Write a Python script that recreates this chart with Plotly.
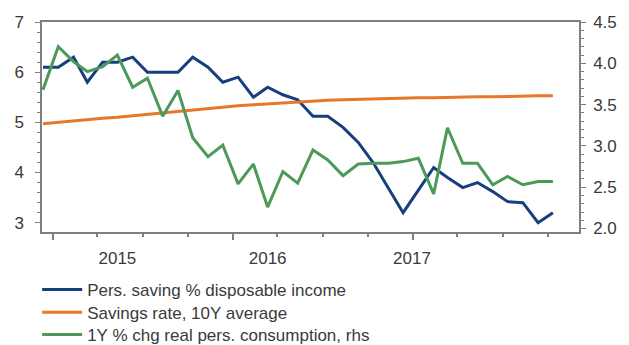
import pandas as pd
import plotly.graph_objects as go

# Monthly observations
months = pd.date_range("2014-12-01", periods=35, freq="MS")

# Personal saving, % of disposable income (left axis)
saving_rate = [6.1, 6.1, 6.3, 5.8, 6.2, 6.2, 6.3, 6.0, 6.0, 6.0,
               6.3, 6.1, 5.8, 5.9, 5.5, 5.7, 5.55, 5.45, 5.12, 5.12,
               4.9, 4.6, 4.2, 3.7, 3.2, 3.65, 4.1, 3.9, 3.7, 3.8,
               3.62, 3.42, 3.4, 3.0, 3.2]

# Savings rate, 10-year average (left axis)
saving_10y_avg = [4.97, 5.00, 5.02, 5.05, 5.08, 5.10, 5.13, 5.16, 5.19, 5.22,
                  5.25, 5.27, 5.30, 5.33, 5.35, 5.37, 5.39, 5.41, 5.43, 5.44,
                  5.45, 5.46, 5.47, 5.48, 5.48, 5.49, 5.49, 5.50, 5.50, 5.51,
                  5.51, 5.52, 5.52, 5.53, 5.53]

# Real personal consumption, 1Y % change (right axis)
consumption_yoy = [3.68, 4.20, 4.02, 3.90, 3.96, 4.10, 3.71, 3.82, 3.36, 3.67,
                   3.10, 2.87, 3.01, 2.54, 2.78, 2.26, 2.69, 2.55, 2.95, 2.83,
                   2.64, 2.78, 2.79, 2.79, 2.81, 2.85, 2.42, 3.22, 2.79, 2.79,
                   2.53, 2.63, 2.53, 2.57, 2.57]

series_names = ["Pers. saving % disposable income",
                "Savings rate, 10Y average",
                "1Y % chg real pers. consumption, rhs"]
series_colors = ["#173f7c", "#e8772a", "#4d9959"]

# Year labels and tick layout along the time axis
year_labels = ["2015", "2016", "2017"]
year_label_dates = ["2015-05-01", "2016-03-01", "2016-12-19"]
year_tick_dates = ["2014-12-21", "2015-12-21", "2016-12-21"]

x_range = ["2014-11-29", "2017-11-23"]
axis_grey = "#7f7f7f"
text_grey = "#3a3a3a"
font_family = "Liberation Sans, Arial, sans-serif"

# One legend per series so the rows sit tightly stacked below the chart
legend_ids = ["legend", "legend2", "legend3"]
legend_tops = [-0.19, -0.298, -0.405]

fig = go.Figure()
for values, name, color, axis, leg in zip(
        [saving_rate, saving_10y_avg, consumption_yoy],
        series_names, series_colors, ["y", "y", "y2"], legend_ids):
    fig.add_trace(go.Scatter(
        x=months, y=values, name=name, mode="lines",
        line=dict(color=color, width=3),
        xaxis="x", yaxis=axis, legend=leg,
    ))

# Empty trace that carries the year-label axis
fig.add_trace(go.Scatter(
    x=year_label_dates, y=[None] * len(year_label_dates),
    xaxis="x3", yaxis="y", mode="lines",
    showlegend=False, hoverinfo="skip",
))

legend_style = dict(
    x=-0.009, xanchor="left", yanchor="top",
    bgcolor="rgba(0,0,0,0)", itemwidth=40,
    font=dict(size=17, color=text_grey),
)

fig.update_layout(
    width=629, height=345,
    margin=dict(l=42, r=50, t=22, b=113, autoexpand=False),
    paper_bgcolor="white", plot_bgcolor="white",
    font=dict(family=font_family, size=17, color=text_grey),
    showlegend=True,
    xaxis=dict(
        type="date", range=x_range,
        showgrid=False, zeroline=False,
        showline=True, linecolor=axis_grey, linewidth=1.5, mirror=True,
        tickvals=year_tick_dates, ticks="outside", ticklen=6,
        tickcolor=axis_grey, tickwidth=1.5, showticklabels=False,
        minor=dict(tick0="2014-12-21", dtick="M3", ticks="outside",
                   ticklen=3, tickcolor=axis_grey, showgrid=False),
    ),
    xaxis3=dict(
        type="date", range=x_range, overlaying="x", anchor="y", side="bottom",
        showgrid=False, zeroline=False, showline=False,
        tickvals=year_label_dates, ticktext=year_labels,
        ticks="", ticklabelstandoff=14,
        tickfont=dict(size=17, color=text_grey),
    ),
    yaxis=dict(
        range=[2.815, 7.0], dtick=1, tick0=0,
        showgrid=False, zeroline=False,
        showline=True, linecolor=axis_grey, linewidth=1.5,
        ticks="outside", ticklen=5, tickcolor=axis_grey,
        ticklabelstandoff=8,
        minor=dict(dtick=0.2, ticks="outside", ticklen=3,
                   tickcolor=axis_grey, showgrid=False),
        tickfont=dict(size=17, color=text_grey),
    ),
    yaxis2=dict(
        range=[1.958, 4.5], dtick=0.5, tick0=0, tickformat=".1f",
        overlaying="y", side="right",
        showgrid=False, zeroline=False,
        showline=True, linecolor=axis_grey, linewidth=1.5,
        ticks="outside", ticklen=5, tickcolor=axis_grey,
        ticklabelstandoff=4,
        minor=dict(dtick=0.1, ticks="outside", ticklen=3,
                   tickcolor=axis_grey, showgrid=False),
        tickfont=dict(size=17, color=text_grey),
    ),
)
for leg, top in zip(legend_ids, legend_tops):
    fig.update_layout({leg: dict(legend_style, y=top)})

fig.write_html("out.html")
